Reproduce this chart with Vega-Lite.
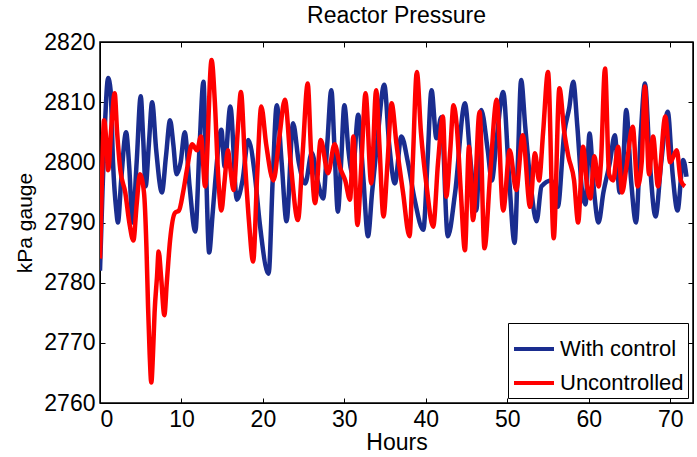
{
  "$schema": "https://vega.github.io/schema/vega-lite/v6.json",
  "width": 593,
  "height": 361,
  "autosize": {"type": "none"},
  "padding": {"left": 100, "top": 42, "right": 4, "bottom": 54},
  "background": "white",
  "title": {"text": "Reactor Pressure", "fontSize": 23, "font": "Liberation Sans", "fontWeight": "normal", "color": "black", "offset": 3},
  "config": {
    "view": {"stroke": "black", "strokeWidth": 1.5},
    "font": "Liberation Sans"
  },
  "datasets": {
    "pressure": [
      {"hours": 0, "kpa": 2782, "series": "With control"},
      {"hours": 0.3, "kpa": 2795, "series": "With control"},
      {"hours": 0.6, "kpa": 2806, "series": "With control"},
      {"hours": 1.0, "kpa": 2814, "series": "With control"},
      {"hours": 1.3, "kpa": 2812, "series": "With control"},
      {"hours": 1.6, "kpa": 2800, "series": "With control"},
      {"hours": 2.0, "kpa": 2792, "series": "With control"},
      {"hours": 2.2, "kpa": 2790, "series": "With control"},
      {"hours": 2.6, "kpa": 2797, "series": "With control"},
      {"hours": 3.2, "kpa": 2805, "series": "With control"},
      {"hours": 3.6, "kpa": 2799, "series": "With control"},
      {"hours": 4.0, "kpa": 2790, "series": "With control"},
      {"hours": 4.5, "kpa": 2800, "series": "With control"},
      {"hours": 5.0, "kpa": 2811, "series": "With control"},
      {"hours": 5.3, "kpa": 2804, "series": "With control"},
      {"hours": 5.6, "kpa": 2796, "series": "With control"},
      {"hours": 6.0, "kpa": 2803, "series": "With control"},
      {"hours": 6.4, "kpa": 2810, "series": "With control"},
      {"hours": 6.9, "kpa": 2802, "series": "With control"},
      {"hours": 7.6, "kpa": 2795, "series": "With control"},
      {"hours": 8.1, "kpa": 2801, "series": "With control"},
      {"hours": 8.6, "kpa": 2807, "series": "With control"},
      {"hours": 9.0, "kpa": 2803, "series": "With control"},
      {"hours": 9.4, "kpa": 2798, "series": "With control"},
      {"hours": 9.9, "kpa": 2800, "series": "With control"},
      {"hours": 10.4, "kpa": 2805, "series": "With control"},
      {"hours": 11.0, "kpa": 2796, "series": "With control"},
      {"hours": 11.7, "kpa": 2788.5, "series": "With control"},
      {"hours": 12.2, "kpa": 2802, "series": "With control"},
      {"hours": 12.7, "kpa": 2813.4, "series": "With control"},
      {"hours": 13.0, "kpa": 2800, "series": "With control"},
      {"hours": 13.4, "kpa": 2785, "series": "With control"},
      {"hours": 13.8, "kpa": 2791, "series": "With control"},
      {"hours": 14.1, "kpa": 2796, "series": "With control"},
      {"hours": 14.9, "kpa": 2805.4, "series": "With control"},
      {"hours": 15.3, "kpa": 2799.3, "series": "With control"},
      {"hours": 16.0, "kpa": 2809.3, "series": "With control"},
      {"hours": 16.8, "kpa": 2793.8, "series": "With control"},
      {"hours": 17.5, "kpa": 2797, "series": "With control"},
      {"hours": 18.2, "kpa": 2803.7, "series": "With control"},
      {"hours": 19.0, "kpa": 2798, "series": "With control"},
      {"hours": 19.6, "kpa": 2790, "series": "With control"},
      {"hours": 20.7, "kpa": 2781.5, "series": "With control"},
      {"hours": 21.2, "kpa": 2797, "series": "With control"},
      {"hours": 21.7, "kpa": 2809.5, "series": "With control"},
      {"hours": 22.3, "kpa": 2800, "series": "With control"},
      {"hours": 22.9, "kpa": 2790.2, "series": "With control"},
      {"hours": 23.7, "kpa": 2806.5, "series": "With control"},
      {"hours": 24.4, "kpa": 2800, "series": "With control"},
      {"hours": 25.2, "kpa": 2796.5, "series": "With control"},
      {"hours": 26.0, "kpa": 2801.6, "series": "With control"},
      {"hours": 26.7, "kpa": 2797, "series": "With control"},
      {"hours": 27.4, "kpa": 2794, "series": "With control"},
      {"hours": 27.9, "kpa": 2803, "series": "With control"},
      {"hours": 28.4, "kpa": 2812, "series": "With control"},
      {"hours": 28.8, "kpa": 2802, "series": "With control"},
      {"hours": 29.2, "kpa": 2791.8, "series": "With control"},
      {"hours": 29.6, "kpa": 2800, "series": "With control"},
      {"hours": 30.0, "kpa": 2809.5, "series": "With control"},
      {"hours": 30.5, "kpa": 2802, "series": "With control"},
      {"hours": 31.0, "kpa": 2798, "series": "With control"},
      {"hours": 31.7, "kpa": 2807.9, "series": "With control"},
      {"hours": 32.3, "kpa": 2798, "series": "With control"},
      {"hours": 32.9, "kpa": 2787.7, "series": "With control"},
      {"hours": 33.4, "kpa": 2795, "series": "With control"},
      {"hours": 34.0, "kpa": 2803, "series": "With control"},
      {"hours": 34.9, "kpa": 2812.9, "series": "With control"},
      {"hours": 35.5, "kpa": 2803, "series": "With control"},
      {"hours": 36.2, "kpa": 2796.5, "series": "With control"},
      {"hours": 37.0, "kpa": 2804.3, "series": "With control"},
      {"hours": 37.8, "kpa": 2800, "series": "With control"},
      {"hours": 38.6, "kpa": 2794, "series": "With control"},
      {"hours": 39.7, "kpa": 2788.8, "series": "With control"},
      {"hours": 40.2, "kpa": 2800, "series": "With control"},
      {"hours": 40.7, "kpa": 2812, "series": "With control"},
      {"hours": 41.3, "kpa": 2804, "series": "With control"},
      {"hours": 41.9, "kpa": 2807.5, "series": "With control"},
      {"hours": 42.7, "kpa": 2787.7, "series": "With control"},
      {"hours": 43.6, "kpa": 2795, "series": "With control"},
      {"hours": 44.8, "kpa": 2809.8, "series": "With control"},
      {"hours": 45.5, "kpa": 2800, "series": "With control"},
      {"hours": 46.2, "kpa": 2792, "series": "With control"},
      {"hours": 46.8, "kpa": 2808.7, "series": "With control"},
      {"hours": 47.6, "kpa": 2802, "series": "With control"},
      {"hours": 48.1, "kpa": 2797, "series": "With control"},
      {"hours": 48.7, "kpa": 2804, "series": "With control"},
      {"hours": 49.5, "kpa": 2811.7, "series": "With control"},
      {"hours": 50.2, "kpa": 2798, "series": "With control"},
      {"hours": 50.9, "kpa": 2786.6, "series": "With control"},
      {"hours": 51.3, "kpa": 2800, "series": "With control"},
      {"hours": 51.7, "kpa": 2813.7, "series": "With control"},
      {"hours": 52.2, "kpa": 2806, "series": "With control"},
      {"hours": 52.9, "kpa": 2796, "series": "With control"},
      {"hours": 53.6, "kpa": 2790.2, "series": "With control"},
      {"hours": 54.2, "kpa": 2796, "series": "With control"},
      {"hours": 55.4, "kpa": 2797, "series": "With control"},
      {"hours": 56.2, "kpa": 2792.6, "series": "With control"},
      {"hours": 57.0, "kpa": 2805, "series": "With control"},
      {"hours": 57.6, "kpa": 2809, "series": "With control"},
      {"hours": 58.1, "kpa": 2813.4, "series": "With control"},
      {"hours": 58.6, "kpa": 2806, "series": "With control"},
      {"hours": 59.2, "kpa": 2795, "series": "With control"},
      {"hours": 59.6, "kpa": 2793, "series": "With control"},
      {"hours": 60.1, "kpa": 2804.8, "series": "With control"},
      {"hours": 60.6, "kpa": 2796, "series": "With control"},
      {"hours": 61.2, "kpa": 2790, "series": "With control"},
      {"hours": 61.8, "kpa": 2795, "series": "With control"},
      {"hours": 62.6, "kpa": 2800, "series": "With control"},
      {"hours": 63.2, "kpa": 2804.5, "series": "With control"},
      {"hours": 63.8, "kpa": 2795, "series": "With control"},
      {"hours": 64.2, "kpa": 2799, "series": "With control"},
      {"hours": 64.6, "kpa": 2808.7, "series": "With control"},
      {"hours": 65.2, "kpa": 2797, "series": "With control"},
      {"hours": 65.8, "kpa": 2790, "series": "With control"},
      {"hours": 66.4, "kpa": 2805, "series": "With control"},
      {"hours": 66.9, "kpa": 2813.1, "series": "With control"},
      {"hours": 67.5, "kpa": 2800, "series": "With control"},
      {"hours": 68.2, "kpa": 2791, "series": "With control"},
      {"hours": 68.9, "kpa": 2800, "series": "With control"},
      {"hours": 69.7, "kpa": 2808.4, "series": "With control"},
      {"hours": 70.3, "kpa": 2798, "series": "With control"},
      {"hours": 70.9, "kpa": 2792, "series": "With control"},
      {"hours": 71.6, "kpa": 2800.4, "series": "With control"},
      {"hours": 72.0, "kpa": 2797.6, "series": "With control"},
      {"hours": 0, "kpa": 2784, "series": "Uncontrolled"},
      {"hours": 0.2, "kpa": 2795, "series": "Uncontrolled"},
      {"hours": 0.5, "kpa": 2807, "series": "Uncontrolled"},
      {"hours": 0.8, "kpa": 2803, "series": "Uncontrolled"},
      {"hours": 1.0, "kpa": 2798.7, "series": "Uncontrolled"},
      {"hours": 1.4, "kpa": 2806, "series": "Uncontrolled"},
      {"hours": 1.8, "kpa": 2811.5, "series": "Uncontrolled"},
      {"hours": 2.1, "kpa": 2805, "series": "Uncontrolled"},
      {"hours": 2.5, "kpa": 2798.7, "series": "Uncontrolled"},
      {"hours": 3.1, "kpa": 2795, "series": "Uncontrolled"},
      {"hours": 3.6, "kpa": 2790, "series": "Uncontrolled"},
      {"hours": 4.1, "kpa": 2787, "series": "Uncontrolled"},
      {"hours": 4.5, "kpa": 2793, "series": "Uncontrolled"},
      {"hours": 4.9, "kpa": 2798, "series": "Uncontrolled"},
      {"hours": 5.4, "kpa": 2795, "series": "Uncontrolled"},
      {"hours": 5.7, "kpa": 2786, "series": "Uncontrolled"},
      {"hours": 5.9, "kpa": 2776, "series": "Uncontrolled"},
      {"hours": 6.1, "kpa": 2768, "series": "Uncontrolled"},
      {"hours": 6.3, "kpa": 2763.4, "series": "Uncontrolled"},
      {"hours": 6.5, "kpa": 2768, "series": "Uncontrolled"},
      {"hours": 6.7, "kpa": 2775, "series": "Uncontrolled"},
      {"hours": 7.0, "kpa": 2781, "series": "Uncontrolled"},
      {"hours": 7.2, "kpa": 2785.2, "series": "Uncontrolled"},
      {"hours": 7.5, "kpa": 2781, "series": "Uncontrolled"},
      {"hours": 7.9, "kpa": 2774.6, "series": "Uncontrolled"},
      {"hours": 8.2, "kpa": 2780, "series": "Uncontrolled"},
      {"hours": 8.6, "kpa": 2787, "series": "Uncontrolled"},
      {"hours": 9.2, "kpa": 2791.6, "series": "Uncontrolled"},
      {"hours": 9.7, "kpa": 2792, "series": "Uncontrolled"},
      {"hours": 10.2, "kpa": 2795, "series": "Uncontrolled"},
      {"hours": 10.7, "kpa": 2799, "series": "Uncontrolled"},
      {"hours": 11.3, "kpa": 2803, "series": "Uncontrolled"},
      {"hours": 11.9, "kpa": 2802, "series": "Uncontrolled"},
      {"hours": 12.4, "kpa": 2804.3, "series": "Uncontrolled"},
      {"hours": 12.9, "kpa": 2796, "series": "Uncontrolled"},
      {"hours": 13.7, "kpa": 2817, "series": "Uncontrolled"},
      {"hours": 14.1, "kpa": 2810, "series": "Uncontrolled"},
      {"hours": 14.5, "kpa": 2798, "series": "Uncontrolled"},
      {"hours": 14.9, "kpa": 2792, "series": "Uncontrolled"},
      {"hours": 15.3, "kpa": 2797, "series": "Uncontrolled"},
      {"hours": 15.7, "kpa": 2802, "series": "Uncontrolled"},
      {"hours": 16.0, "kpa": 2799, "series": "Uncontrolled"},
      {"hours": 16.4, "kpa": 2795.4, "series": "Uncontrolled"},
      {"hours": 16.9, "kpa": 2805, "series": "Uncontrolled"},
      {"hours": 17.3, "kpa": 2811.7, "series": "Uncontrolled"},
      {"hours": 17.8, "kpa": 2800, "series": "Uncontrolled"},
      {"hours": 18.3, "kpa": 2790, "series": "Uncontrolled"},
      {"hours": 18.8, "kpa": 2783.5, "series": "Uncontrolled"},
      {"hours": 19.3, "kpa": 2798, "series": "Uncontrolled"},
      {"hours": 19.8, "kpa": 2809.3, "series": "Uncontrolled"},
      {"hours": 20.4, "kpa": 2803, "series": "Uncontrolled"},
      {"hours": 21.3, "kpa": 2797, "series": "Uncontrolled"},
      {"hours": 22.0, "kpa": 2804, "series": "Uncontrolled"},
      {"hours": 22.7, "kpa": 2810.4, "series": "Uncontrolled"},
      {"hours": 23.4, "kpa": 2800, "series": "Uncontrolled"},
      {"hours": 24.3, "kpa": 2790.4, "series": "Uncontrolled"},
      {"hours": 24.9, "kpa": 2802, "series": "Uncontrolled"},
      {"hours": 25.5, "kpa": 2813.1, "series": "Uncontrolled"},
      {"hours": 25.9, "kpa": 2802, "series": "Uncontrolled"},
      {"hours": 26.4, "kpa": 2793.2, "series": "Uncontrolled"},
      {"hours": 27.1, "kpa": 2803.7, "series": "Uncontrolled"},
      {"hours": 28.0, "kpa": 2798.2, "series": "Uncontrolled"},
      {"hours": 28.8, "kpa": 2803, "series": "Uncontrolled"},
      {"hours": 29.5, "kpa": 2799, "series": "Uncontrolled"},
      {"hours": 30.1, "kpa": 2797, "series": "Uncontrolled"},
      {"hours": 30.7, "kpa": 2793.8, "series": "Uncontrolled"},
      {"hours": 31.1, "kpa": 2804.3, "series": "Uncontrolled"},
      {"hours": 31.6, "kpa": 2789.6, "series": "Uncontrolled"},
      {"hours": 32.1, "kpa": 2800, "series": "Uncontrolled"},
      {"hours": 32.6, "kpa": 2811.5, "series": "Uncontrolled"},
      {"hours": 33.3, "kpa": 2796.5, "series": "Uncontrolled"},
      {"hours": 33.9, "kpa": 2812, "series": "Uncontrolled"},
      {"hours": 34.3, "kpa": 2803, "series": "Uncontrolled"},
      {"hours": 34.8, "kpa": 2791, "series": "Uncontrolled"},
      {"hours": 35.3, "kpa": 2800, "series": "Uncontrolled"},
      {"hours": 35.8, "kpa": 2809.8, "series": "Uncontrolled"},
      {"hours": 36.4, "kpa": 2803, "series": "Uncontrolled"},
      {"hours": 37.2, "kpa": 2795, "series": "Uncontrolled"},
      {"hours": 38.0, "kpa": 2787.7, "series": "Uncontrolled"},
      {"hours": 38.4, "kpa": 2800, "series": "Uncontrolled"},
      {"hours": 38.9, "kpa": 2815, "series": "Uncontrolled"},
      {"hours": 39.4, "kpa": 2805, "series": "Uncontrolled"},
      {"hours": 40.1, "kpa": 2796, "series": "Uncontrolled"},
      {"hours": 40.9, "kpa": 2789.3, "series": "Uncontrolled"},
      {"hours": 41.5, "kpa": 2800, "series": "Uncontrolled"},
      {"hours": 42.1, "kpa": 2807.6, "series": "Uncontrolled"},
      {"hours": 42.5, "kpa": 2794.3, "series": "Uncontrolled"},
      {"hours": 43.0, "kpa": 2802, "series": "Uncontrolled"},
      {"hours": 43.4, "kpa": 2809.5, "series": "Uncontrolled"},
      {"hours": 43.8, "kpa": 2806, "series": "Uncontrolled"},
      {"hours": 44.3, "kpa": 2795, "series": "Uncontrolled"},
      {"hours": 44.8, "kpa": 2785.4, "series": "Uncontrolled"},
      {"hours": 45.3, "kpa": 2802.6, "series": "Uncontrolled"},
      {"hours": 45.8, "kpa": 2790.4, "series": "Uncontrolled"},
      {"hours": 46.6, "kpa": 2808.4, "series": "Uncontrolled"},
      {"hours": 47.2, "kpa": 2785.7, "series": "Uncontrolled"},
      {"hours": 47.9, "kpa": 2798, "series": "Uncontrolled"},
      {"hours": 48.7, "kpa": 2810.4, "series": "Uncontrolled"},
      {"hours": 49.5, "kpa": 2792, "series": "Uncontrolled"},
      {"hours": 50.3, "kpa": 2802, "series": "Uncontrolled"},
      {"hours": 51.1, "kpa": 2795.4, "series": "Uncontrolled"},
      {"hours": 51.9, "kpa": 2804.5, "series": "Uncontrolled"},
      {"hours": 52.8, "kpa": 2792.6, "series": "Uncontrolled"},
      {"hours": 53.4, "kpa": 2801.5, "series": "Uncontrolled"},
      {"hours": 53.9, "kpa": 2797, "series": "Uncontrolled"},
      {"hours": 54.4, "kpa": 2805, "series": "Uncontrolled"},
      {"hours": 55.0, "kpa": 2815, "series": "Uncontrolled"},
      {"hours": 55.7, "kpa": 2787.4, "series": "Uncontrolled"},
      {"hours": 56.4, "kpa": 2812.3, "series": "Uncontrolled"},
      {"hours": 57.0, "kpa": 2805, "series": "Uncontrolled"},
      {"hours": 57.5, "kpa": 2801, "series": "Uncontrolled"},
      {"hours": 58.2, "kpa": 2797, "series": "Uncontrolled"},
      {"hours": 58.7, "kpa": 2790, "series": "Uncontrolled"},
      {"hours": 59.3, "kpa": 2802.6, "series": "Uncontrolled"},
      {"hours": 59.8, "kpa": 2796, "series": "Uncontrolled"},
      {"hours": 60.2, "kpa": 2794, "series": "Uncontrolled"},
      {"hours": 60.7, "kpa": 2801, "series": "Uncontrolled"},
      {"hours": 61.2, "kpa": 2796, "series": "Uncontrolled"},
      {"hours": 61.5, "kpa": 2800, "series": "Uncontrolled"},
      {"hours": 62.0, "kpa": 2815.6, "series": "Uncontrolled"},
      {"hours": 62.5, "kpa": 2798, "series": "Uncontrolled"},
      {"hours": 63.0, "kpa": 2797, "series": "Uncontrolled"},
      {"hours": 63.6, "kpa": 2802.6, "series": "Uncontrolled"},
      {"hours": 64.1, "kpa": 2795, "series": "Uncontrolled"},
      {"hours": 64.6, "kpa": 2799, "series": "Uncontrolled"},
      {"hours": 65.4, "kpa": 2805.9, "series": "Uncontrolled"},
      {"hours": 66.0, "kpa": 2796, "series": "Uncontrolled"},
      {"hours": 66.5, "kpa": 2800, "series": "Uncontrolled"},
      {"hours": 66.9, "kpa": 2812.6, "series": "Uncontrolled"},
      {"hours": 67.4, "kpa": 2798, "series": "Uncontrolled"},
      {"hours": 67.9, "kpa": 2804.3, "series": "Uncontrolled"},
      {"hours": 68.5, "kpa": 2796, "series": "Uncontrolled"},
      {"hours": 69.4, "kpa": 2807.6, "series": "Uncontrolled"},
      {"hours": 70.0, "kpa": 2800, "series": "Uncontrolled"},
      {"hours": 70.8, "kpa": 2802, "series": "Uncontrolled"},
      {"hours": 71.3, "kpa": 2797, "series": "Uncontrolled"},
      {"hours": 71.8, "kpa": 2796, "series": "Uncontrolled"}
    ]
  },
  "data": {"name": "pressure"},
  "encoding": {
    "x": {"field": "hours", "type": "quantitative", "scale": {"domain": [0, 72.8], "nice": false, "zero": false}},
    "y": {"field": "kpa", "type": "quantitative", "scale": {"domain": [2760, 2820], "nice": false, "zero": false}},
    "color": {
      "field": "series", "type": "nominal",
      "scale": {"domain": ["With control", "Uncontrolled"], "range": ["#1a2d8f", "#ff0000"]},
      "legend": {
        "title": null, "orient": "bottom-right", "offset": 5,
        "fillColor": "white", "strokeColor": "black", "padding": 4,
        "symbolType": "stroke", "symbolStrokeWidth": 4, "symbolSize": 1600,
        "labelFontSize": 22, "labelFont": "Liberation Sans", "labelColor": "black",
        "rowPadding": 1, "cornerRadius": 0
      }
    }
  },
  "layer": [
    {
      "transform": [{"filter": "datum.series === 'With control'"}],
      "mark": {"type": "line", "strokeWidth": 4.5, "strokeJoin": "round", "interpolate": "monotone", "clip": true},
      "encoding": {
        "x": {"field": "hours", "type": "quantitative", "title": "Hours",
          "axis": {"values": [0, 10, 20, 30, 40, 50, 60, 70], "grid": false, "tickSize": -5, "tickColor": "black", "domainColor": "black",
            "labelFontSize": 23, "labelColor": "black", "labelFont": "Liberation Sans", "labelPadding": 10,
            "titleFontSize": 23, "titleFontWeight": "normal", "titleColor": "black", "titleFont": "Liberation Sans", "titlePadding": 0}},
        "y": {"field": "kpa", "type": "quantitative", "title": "kPa gauge",
          "axis": {"values": [2760, 2770, 2780, 2790, 2800, 2810, 2820], "format": "d", "grid": false, "tickSize": -5, "tickColor": "black", "domainColor": "black",
            "labelFontSize": 23, "labelColor": "black", "labelFont": "Liberation Sans", "labelPadding": 10,
            "titleFontSize": 21, "titleFontWeight": "normal", "titleColor": "black", "titleFont": "Liberation Sans", "titlePadding": 8}}
      }
    },
    {
      "transform": [{"filter": "datum.series === 'Uncontrolled'"}],
      "mark": {"type": "line", "strokeWidth": 4.5, "strokeJoin": "round", "interpolate": "monotone", "clip": true},
      "encoding": {
        "x": {"field": "hours", "type": "quantitative",
          "axis": {"orient": "top", "values": [0, 10, 20, 30, 40, 50, 60, 70], "labels": false, "title": null, "grid": false, "tickSize": -5, "tickColor": "black", "domainColor": "black"}},
        "y": {"field": "kpa", "type": "quantitative",
          "axis": {"orient": "right", "values": [2760, 2770, 2780, 2790, 2800, 2810, 2820], "labels": false, "title": null, "grid": false, "tickSize": -5, "tickColor": "black", "domainColor": "black"}}
      }
    }
  ],
  "resolve": {"axis": {"x": "independent", "y": "independent"}}
}
